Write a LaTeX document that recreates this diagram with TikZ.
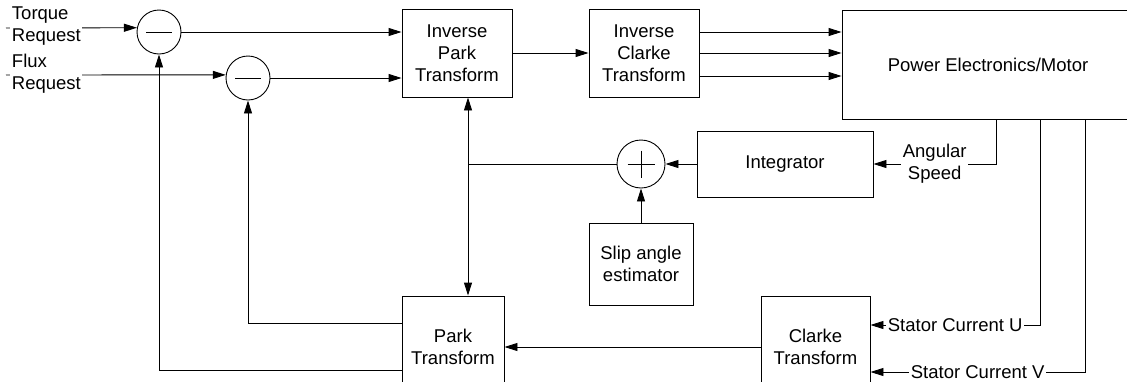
\documentclass[tikz,border=0pt]{standalone}
\usepackage{fontspec}
\setmainfont{Liberation Sans}
\usetikzlibrary{arrows.meta,calc}
\begin{document}
\begin{tikzpicture}[x=1pt,y=-1pt,line width=0.9pt,
  every node/.style={font=\fontsize{18.5}{22}\selectfont},
  blk/.style={draw, inner sep=0pt, align=center},
  sumc/.style={draw, circle, inner sep=0pt, minimum size=44pt},
  lbl/.style={fill=white, inner sep=1.5pt, align=center},
  arr/.style={-{Triangle[length=13pt,width=8pt]}},
  darr/.style={{Triangle[length=13pt,width=8pt]}-{Triangle[length=13pt,width=8pt]}}]
\useasboundingbox (0,0) rectangle (1127,381);
\clip (0,0) rectangle (1127,381);
% blocks
\node[blk, minimum width=110pt, minimum height=88pt] (ipark) at (457,53) {Inverse\\Park\\Transform};
\node[blk, minimum width=110pt, minimum height=88pt] (iclarke) at (644,53) {Inverse\\Clarke\\Transform};
\node[blk, minimum width=292pt, minimum height=109pt] (power) at (988,64.5) {Power Electronics/Motor};
\node[blk, minimum width=176pt, minimum height=66pt] (integ) at (785,164) {Integrator};
\node[blk, minimum width=104pt, minimum height=82pt] (slip) at (641,264) {Slip angle\\estimator};
\node[blk, minimum width=102pt, minimum height=102pt] (park) at (453,347) {Park\\Transform};
\node[blk, minimum width=109pt, minimum height=102pt] (clarke) at (815.5,347) {Clarke\\Transform};
% summing junctions
\node[sumc] (c1) at (159,32) {};
\node[sumc] (c2) at (248,78) {};
\node[sumc, minimum size=48pt] (plus) at (641,164) {};
\draw (c1.center) +(-13,0) -- +(13,0);
\draw (c2.center) +(-13,0) -- +(13,0);
\draw (plus.center) +(-13.5,0) -- +(13.5,0);
\draw (plus.center) +(0,-13.5) -- +(0,13.5);
% coordinates
\coordinate (tin) at (6,28);
\coordinate (fin) at (6,75);
\coordinate (vx) at (468,0);
\coordinate (asp) at (996,0);
\coordinate (su) at (1040,0);
\coordinate (sv) at (1085,0);
% inputs
\draw[arr] (tin) -- (c1.169.5);
\node[lbl, anchor=west, align=left] at (10,26.5) {Torque\\Request};
\draw[arr] (fin) -- (c2.172.2);
\node[lbl, anchor=west, align=left] at (10,73.5) {Flux\\Request};
% forward path
\draw[arr] (c1.east) -- (c1.east -| ipark.west);
\draw[arr] (c2.east) -- (c2.east -| ipark.west);
\draw[arr] (ipark.east) -- (iclarke.west);
\draw[arr] ([yshift=21pt]iclarke.east) -- ([yshift=21pt]iclarke.east -| power.west);
\draw[arr] (iclarke.east) -- (iclarke.east -| power.west);
\draw[arr] ([yshift=-23pt]iclarke.east) -- ([yshift=-23pt]iclarke.east -| power.west);
% angle path
\draw[arr] (asp |- power.south) |- node[pos=0.75, lbl] {Angular\\Speed} (integ.east);
\draw[arr] (integ.west) -- (plus.east);
\draw[arr] (slip.north) -- (plus.south);
\draw (plus.west) -- (plus.west -| vx);
\draw[darr] (vx |- ipark.south) -- (vx |- park.north);
% feedback
\draw[arr] (clarke.west) -- (park.east);
\draw[arr] ([yshift=24pt]park.west) -| (c2.south);
\draw[arr] ([yshift=-23pt]park.west) -| (c1.south);
\draw[arr] (su |- power.south) |- node[pos=0.75, lbl] {Stator Current U} ([yshift=22pt]clarke.east);
\draw[arr] (sv |- power.south) |- node[pos=0.75, lbl] {Stator Current V} ([yshift=-25pt]clarke.east);
\end{tikzpicture}
\end{document}
